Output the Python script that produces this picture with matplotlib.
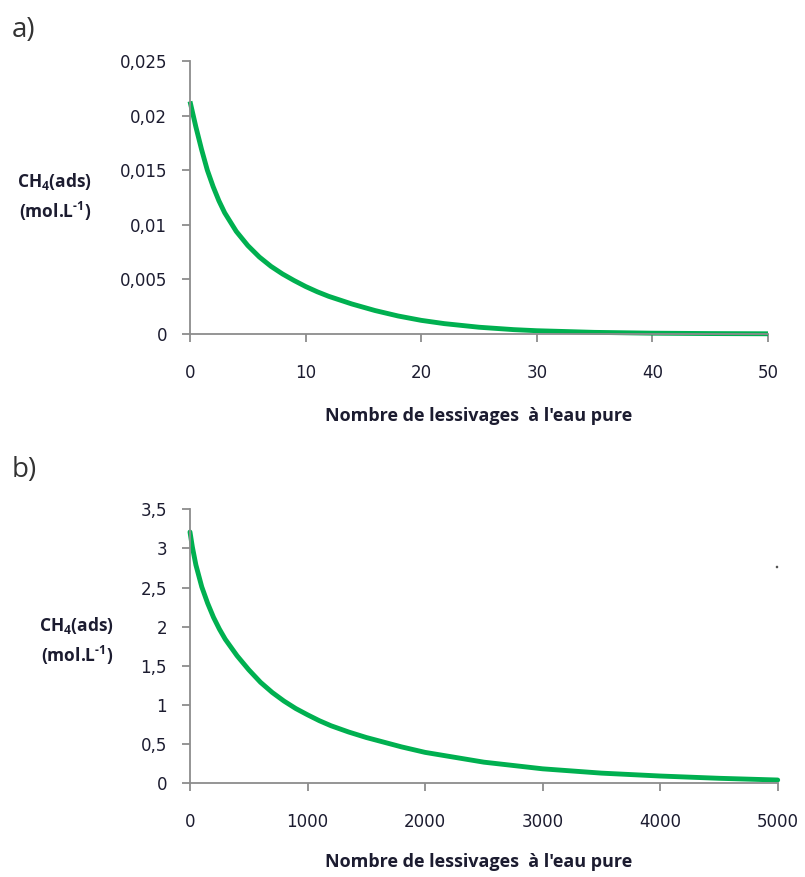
import matplotlib
matplotlib.use("Agg")
import matplotlib.pyplot as plt
from matplotlib.patches import Circle

# ---- data ----
a_x = [0, 0.5, 1, 1.5, 2, 2.5, 3, 4, 5, 6, 7, 8, 9, 10, 11, 12, 14, 16, 18, 20, 22, 25,
       28, 30, 35, 40, 45, 50]
a_y = [0.0213, 0.0190, 0.0169, 0.0150, 0.0135, 0.0122, 0.0111, 0.0094, 0.0081, 0.00705,
       0.0062, 0.0055, 0.0049, 0.00435, 0.00387, 0.00345, 0.00275, 0.00215, 0.00165,
       0.00125, 0.00095, 0.00062, 0.00040, 0.00030, 0.00015, 0.000075, 0.00004, 0.00002]

b_x = [0, 20, 50, 100, 150, 200, 250, 300, 400, 500, 600, 700, 800, 900, 1000, 1100, 1200,
       1350, 1500, 1800, 2000, 2500, 3000, 3500, 4000, 4500, 5000]
b_y = [3.21, 3.02, 2.79, 2.51, 2.30, 2.12, 1.97, 1.84, 1.63, 1.45, 1.29, 1.16, 1.05, 0.955,
       0.875, 0.80, 0.735, 0.655, 0.585, 0.465, 0.395, 0.27, 0.185, 0.13, 0.093, 0.064,
       0.042]

a_yticks = [0, 0.005, 0.01, 0.015, 0.02, 0.025]
a_yticklabels = ["0", "0,005", "0,01", "0,015", "0,02", "0,025"]
a_xticks = [0, 10, 20, 30, 40, 50]

b_yticks = [0, 0.5, 1, 1.5, 2, 2.5, 3, 3.5]
b_yticklabels = ["0", "0,5", "1", "1,5", "2", "2,5", "3", "3,5"]
b_xticks = [0, 1000, 2000, 3000, 4000, 5000]

xlabel = "Nombre de lessivages  à l'eau pure"
ylabel = "CH$_4$(ads)\n(mol.L$^{\\text{-}1}$)"

plt.rcParams['font.family'] = ['Open Sans', 'DejaVu Sans']
plt.rcParams['mathtext.fontset'] = 'custom'
plt.rcParams['mathtext.rm'] = 'Open Sans:bold'
plt.rcParams['mathtext.it'] = 'Open Sans:bold'
plt.rcParams['mathtext.bf'] = 'Open Sans:bold'

W, H = 805, 877
fig = plt.figure(figsize=(W / 100, H / 100), dpi=100)

GREEN = '#00B050'
AXC = '#8c8c8c'
TXT = '#1c1c30'


def px_axes(l, t, r, b):
    return fig.add_axes([l / W, 1 - b / H, (r - l) / W, (b - t) / H])


def style(ax, xticks, yticks, yticklabels):
    for s in ['top', 'right']:
        ax.spines[s].set_visible(False)
    for s in ['left', 'bottom']:
        ax.spines[s].set_color(AXC)
        ax.spines[s].set_linewidth(1.3)
    ax.set_xticks(xticks)
    ax.set_xticklabels([str(v) for v in xticks])
    ax.set_yticks(yticks)
    ax.set_yticklabels(yticklabels)
    ax.tick_params(axis='both', direction='out', length=5.5, width=1.3, color=AXC,
                   labelsize=12, labelcolor=TXT)
    for lab in ax.get_xticklabels() + ax.get_yticklabels():
        lab.set_fontfamily('DejaVu Sans')
    ax.tick_params(axis='x', pad=16)
    ax.tick_params(axis='y', pad=11)
    ax.set_xlim(xticks[0], xticks[-1])
    ax.set_ylim(yticks[0], yticks[-1])


# panel a
ax1 = px_axes(190, 61, 768, 334)
ax1.plot(a_x, a_y, color=GREEN, lw=3.5, solid_joinstyle='round', solid_capstyle='butt',
         clip_on=False)
style(ax1, a_xticks, a_yticks, a_yticklabels)

# panel b
ax2 = px_axes(190, 509.3, 777.7, 783.3)
ax2.plot(b_x, b_y, color=GREEN, lw=3.5, solid_joinstyle='round', solid_capstyle='round',
         clip_on=False)
style(ax2, b_xticks, b_yticks, b_yticklabels)

# labels
fig.text(12 / W, 1 - 30 / H, "a)", fontsize=20, color='#333333', va='center', ha='left')
fig.text(12 / W, 1 - 470 / H, "b)", fontsize=20, color='#333333', va='center', ha='left')

fig.text(55 / W, 1 - 197 / H, ylabel, fontsize=12.5, fontweight='bold', color=TXT,
         ha='center', va='center', linespacing=1.45)
fig.text(77 / W, 1 - 641 / H, ylabel, fontsize=12.5, fontweight='bold', color=TXT,
         ha='center', va='center', linespacing=1.45)

fig.text(479 / W, 1 - 416 / H, xlabel, fontsize=13, fontweight='bold', color=TXT,
         ha='center', va='center')
fig.text(479 / W, 1 - 862 / H, xlabel, fontsize=13, fontweight='bold', color=TXT,
         ha='center', va='center')

# small stray dot present in the reference
fig.patches.append(Circle((777 / W, 1 - 567 / H), 0.0007, transform=fig.transFigure,
                          color='#555555', figure=fig))

fig.savefig("out.png", dpi=100, facecolor='white')
